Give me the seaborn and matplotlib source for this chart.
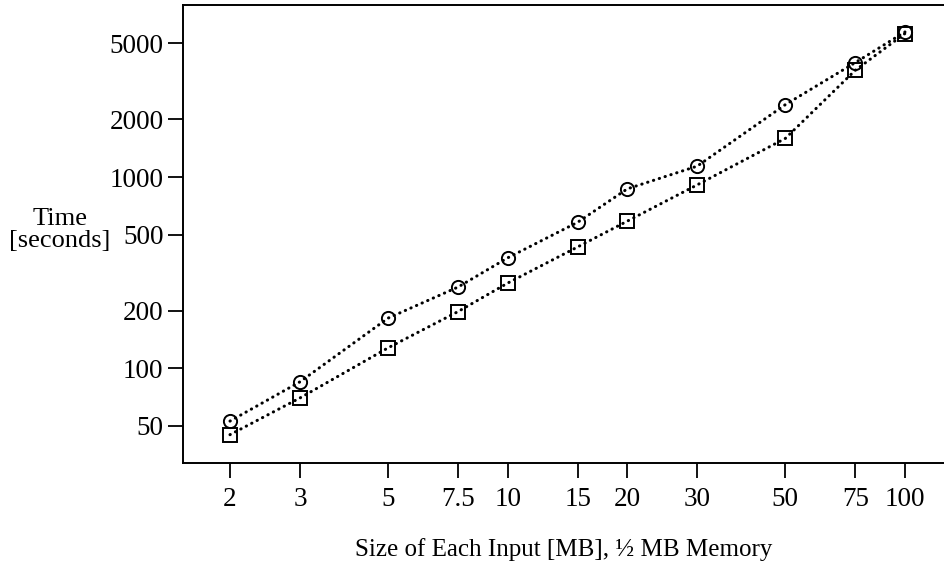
import matplotlib
matplotlib.use("Agg")
import matplotlib.pyplot as plt
import seaborn as sns
import numpy as np
from matplotlib.ticker import FixedLocator, FixedFormatter, NullLocator

sizes = [2, 3, 5, 7.5, 10, 15, 20, 30, 50, 75, 100]
circle_times = [53, 85, 183, 266, 378, 580, 867, 1140, 2390, 3965, 5730]
square_times = [45, 70, 128, 198, 279, 431, 588, 910, 1592, 3615, 5625]

x_ticks = [2, 3, 5, 7.5, 10, 15, 20, 30, 50, 75, 100]
x_tick_labels = ["2", "3", "5", "7.5", "10", "15", "20", "30", "50", "75", "100"]
y_ticks = [50, 100, 200, 500, 1000, 2000, 5000]
y_tick_labels = ["50", "100", "200", "500", "1000", "2000", "5000"]

sns.set_style("ticks")
plt.rcParams['font.family'] = ['Liberation Serif', 'DejaVu Serif']
plt.rcParams['font.size'] = 19.5

fig = plt.figure(figsize=(9.44, 5.63), dpi=100)
ax = fig.add_axes([183/944, 100/563, 1 - 183/944, (463-5)/563])
ax.set_xscale('log')
ax.set_yscale('log')

common = dict(color='black', linewidth=2.2, linestyle=(0, (0.1, 1.9)),
              dash_capstyle='round', markersize=9.5, markerfacecolor='none',
              markeredgecolor='black', markeredgewidth=1.4, ax=ax, clip_on=False)
sns.lineplot(x=sizes, y=circle_times, marker='o', **common)
sns.lineplot(x=sizes, y=square_times, marker='s', **common)

ax.set_xlim(1.523, 125.4)
ax.set_ylim(32.0, 7928)

ax.xaxis.set_major_locator(FixedLocator(x_ticks))
ax.xaxis.set_major_formatter(FixedFormatter(x_tick_labels))
ax.xaxis.set_minor_locator(NullLocator())
ax.yaxis.set_major_locator(FixedLocator(y_ticks))
ax.yaxis.set_major_formatter(FixedFormatter(y_tick_labels))
ax.yaxis.set_minor_locator(NullLocator())

ax.tick_params(axis='both', which='major', direction='out', length=11, width=1.3,
               color='black', labelsize=19.5, labelcolor='black')
ax.tick_params(axis='y', pad=3)
ax.tick_params(axis='x', pad=6)

for side in ['left', 'bottom', 'top']:
    ax.spines[side].set_visible(True)
    ax.spines[side].set_linewidth(1.4)
    ax.spines[side].set_color('black')
ax.spines['right'].set_visible(False)

ax.set_xlabel("Size of Each Input [MB], ½ MB Memory", fontsize=18, labelpad=19, color='black')
ax.set_ylabel("")
fig.text(60/944, 1 - 230/563, "Time\n[seconds]", ha='center', va='center',
         fontsize=19, linespacing=1.05, color='black')

fig.savefig("out.png", dpi=100)
